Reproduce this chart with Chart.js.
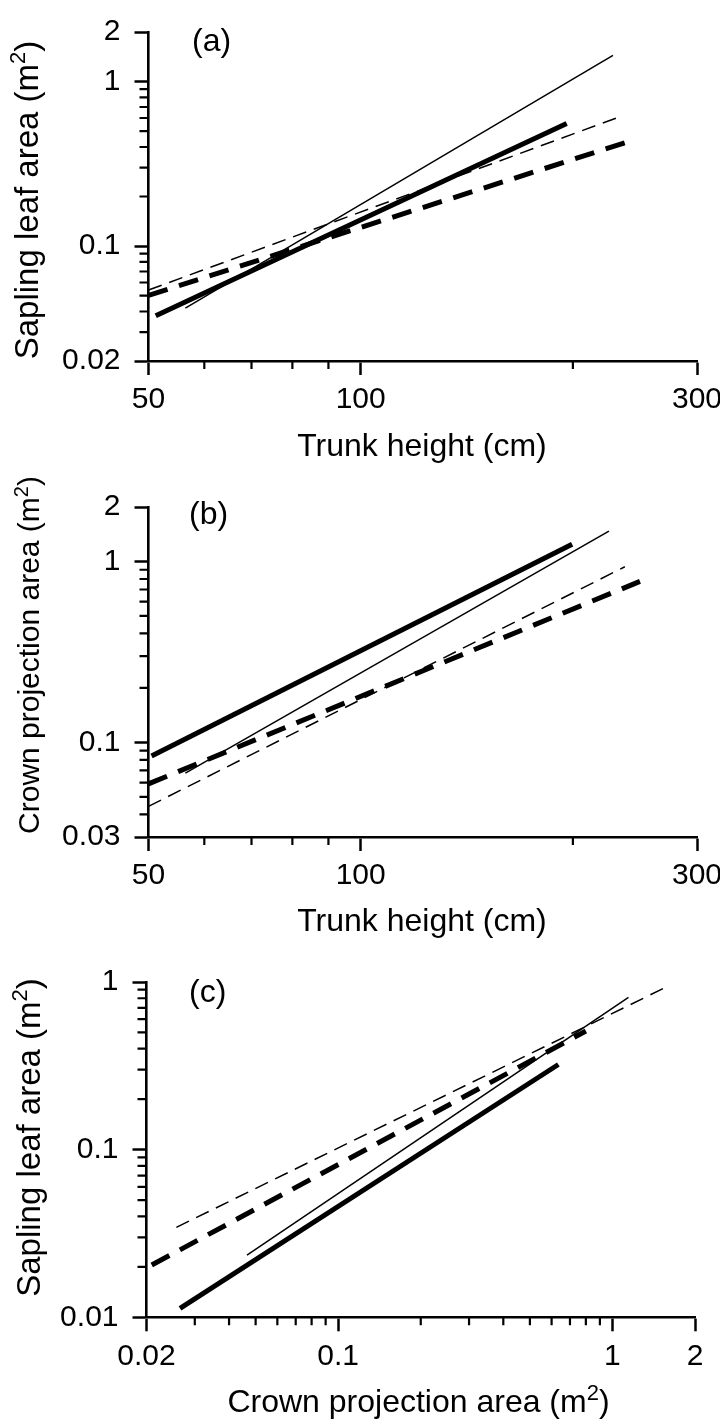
<!DOCTYPE html>
<html>
<head>
<meta charset="utf-8">
<title>Allometry of saplings</title>
<script src="https://cdn.jsdelivr.net/npm/chart.js@4.4.1/dist/chart.umd.min.js"></script>
<style>
  html, body { margin: 0; padding: 0; background: #fff; }
  .panel { position: relative; width: 720px; height: 475px; }
</style>
</head>
<body>
<div class="panel"><canvas id="panelA"></canvas></div>
<div class="panel"><canvas id="panelB"></canvas></div>
<div class="panel"><canvas id="panelC"></canvas></div>
<script>
const FONT = '"Liberation Sans", Arial, Helvetica, sans-serif';

// axis ticks
const heightMajor = [50, 100, 300];
const heightMinor = [60, 70, 80, 90, 200];
const leafMajorA = [0.02, 0.1, 1, 2];
const leafMinorA = [0.03, 0.04, 0.05, 0.06, 0.07, 0.08, 0.09, 0.2, 0.3, 0.4, 0.5, 0.6, 0.7, 0.8, 0.9];
const crownMajorB = [0.03, 0.1, 1, 2];
const crownMinorB = [0.04, 0.05, 0.06, 0.07, 0.08, 0.09, 0.2, 0.3, 0.4, 0.5, 0.6, 0.7, 0.8, 0.9];
const crownMajorC = [0.02, 0.1, 1, 2];
const crownMinorC = [0.03, 0.04, 0.05, 0.06, 0.07, 0.08, 0.09, 0.2, 0.3, 0.4, 0.5, 0.6, 0.7, 0.8, 0.9];
const leafMajorC = [0.01, 0.1, 1];
const leafMinorC = [0.02, 0.03, 0.04, 0.05, 0.06, 0.07, 0.08, 0.09, 0.2, 0.3, 0.4, 0.5, 0.6, 0.7, 0.8, 0.9];

// fitted lines, [x, y] at both ends
// (a) leaf area vs trunk height
const aThinSolid = [[56.4, 0.0419], [228, 1.44]];
const aThickSolid = [[51.2, 0.0377], [196, 0.556]];
const aThinDashed = [[50, 0.054], [233, 0.61]];
const aThickDashed = [[50, 0.0501], [237, 0.424]];
// (b) crown projection area vs trunk height
const bThinSolid = [[56.4, 0.0677], [225, 1.47]];
const bThickSolid = [[50.5, 0.084], [199.5, 1.245]];
const bThinDashed = [[50, 0.0443], [237, 0.935]];
const bThickDashed = [[50, 0.059], [249, 0.776]];
// (c) leaf area vs crown projection area
const cThinSolid = [[0.0465, 0.0235], [1.144, 0.809]];
const cThickSolid = [[0.0265, 0.0113], [0.635, 0.322]];
const cThinDashed = [[0.0257, 0.0344], [1.53, 0.914]];
const cThickDashed = [[0.0209, 0.0205], [0.80, 0.51]];

const thinSolid = { width: 1.5, dash: [] };
const thickSolid = { width: 5, dash: [] };
const thinDashed = { width: 1.5, dash: [14, 8] };
const thickDashed = { width: 5, dash: [20, 12] };

// short unlabelled ticks between the labelled ones
const minorTicks = {
  id: 'minorTicks',
  afterDraw(chart, args, opts) {
    const ctx = chart.ctx;
    const { x, y } = chart.scales;
    ctx.save();
    ctx.strokeStyle = '#000';
    ctx.lineWidth = 2.2;
    ctx.beginPath();
    opts.x.forEach(v => {
      const px = x.getPixelForValue(v);
      ctx.moveTo(px, x.top);
      ctx.lineTo(px, x.top + 8);
    });
    opts.y.forEach(v => {
      const py = y.getPixelForValue(v);
      ctx.moveTo(y.right, py);
      ctx.lineTo(y.right - 9, py);
    });
    ctx.stroke();
    ctx.restore();
  }
};

function drawTitle(ctx, parts, size, cx, base, rot) {
  const big = size + 'px ' + FONT;
  const small = Math.round(size * 0.68) + 'px ' + FONT;
  ctx.save();
  ctx.translate(cx, base);
  ctx.rotate(rot);
  ctx.font = big;
  const w0 = ctx.measureText(parts[0]).width;
  const w2 = ctx.measureText(parts[2]).width;
  ctx.font = small;
  const w1 = ctx.measureText(parts[1]).width;
  let x = -(w0 + w1 + w2) / 2;
  ctx.font = big;
  ctx.fillText(parts[0], x, 0);
  x += w0;
  ctx.font = small;
  ctx.fillText(parts[1], x, -size * 0.38);
  x += w1;
  ctx.font = big;
  ctx.fillText(parts[2], x, 0);
  ctx.restore();
}

// panel tag and axis titles (with superscript units)
const panelText = {
  id: 'panelText',
  afterDraw(chart, args, o) {
    const ctx = chart.ctx;
    ctx.save();
    ctx.fillStyle = '#000';
    ctx.textBaseline = 'alphabetic';
    ctx.textAlign = 'left';
    ctx.font = '32px ' + FONT;
    ctx.fillText(o.tag, o.tagX, o.tagY);
    drawTitle(ctx, o.xTitle, 32, o.xTitleX, o.xTitleY, 0);
    drawTitle(ctx, o.yTitle, o.yTitleSize, o.yTitleX, o.yTitleY, -Math.PI / 2);
    ctx.restore();
  }
};

function logAxis(pos, min, max, major, fit) {
  return {
    type: 'logarithmic',
    position: pos,
    min: min,
    max: max,
    bounds: 'data',
    afterBuildTicks: s => { s.ticks = major.map(v => ({ value: v })); },
    afterFit: fit,
    grid: { display: true, drawOnChartArea: false, drawTicks: true, tickLength: 14, tickWidth: 2.5, tickColor: '#000' },
    border: { display: true, color: '#000', width: 2.6 },
    ticks: {
      color: '#000',
      font: { family: FONT, size: 30 },
      padding: pos === 'left' ? 14 : 7,
      autoSkip: false,
      maxRotation: 0,
      minRotation: 0,
      callback: v => String(v)
    }
  };
}

function panel(id, p) {
  const H = 475;
  return new Chart(document.getElementById(id), {
    type: 'line',
    data: {
      datasets: p.lines.map(([pts, st]) => ({
        data: pts.map(([x, y]) => ({ x: x, y: y })),
        borderColor: '#000',
        borderWidth: st.width,
        borderDash: st.dash,
        borderCapStyle: 'butt',
        pointRadius: 0,
        fill: false,
        tension: 0
      }))
    },
    options: {
      responsive: true,
      maintainAspectRatio: false,
      animation: false,
      events: [],
      layout: { padding: { top: p.area.top, right: 720 - p.area.right, bottom: 0, left: 0 } },
      plugins: {
        legend: { display: false },
        tooltip: { enabled: false },
        minorTicks: { x: p.xMinor, y: p.yMinor },
        panelText: p.text
      },
      scales: {
        x: logAxis('bottom', p.xRange[0], p.xRange[1], p.xMajor, s => {
          s.height = H - p.area.bottom;
          s.paddingLeft = 0;
          s.paddingRight = 0;
        }),
        y: logAxis('left', p.yRange[0], p.yRange[1], p.yMajor, s => {
          s.width = p.area.left;
        })
      }
    },
    plugins: [minorTicks, panelText]
  });
}

panel('panelA', {
  area: { top: 22.7, bottom: 361, left: 148.5, right: 697 },
  xRange: [50, 300], yRange: [0.02, 2],
  xMajor: heightMajor, xMinor: heightMinor,
  yMajor: leafMajorA, yMinor: leafMinorA,
  lines: [[aThickSolid, thickSolid], [aThickDashed, thickDashed], [aThinSolid, thinSolid], [aThinDashed, thinDashed]],
  text: {
    tag: '(a)', tagX: 192, tagY: 51,
    xTitle: ['Trunk height (cm)', '', ''], xTitleX: 422, xTitleY: 456,
    yTitle: ['Sapling leaf area (m', '2', ')'], yTitleSize: 33, yTitleX: 38, yTitleY: 200
  }
});

panel('panelB', {
  area: { top: 21.7, bottom: 362, left: 148.5, right: 697 },
  xRange: [50, 300], yRange: [0.03, 2],
  xMajor: heightMajor, xMinor: heightMinor,
  yMajor: crownMajorB, yMinor: crownMinorB,
  lines: [[bThickSolid, thickSolid], [bThickDashed, thickDashed], [bThinSolid, thinSolid], [bThinDashed, thinDashed]],
  text: {
    tag: '(b)', tagX: 189, tagY: 49,
    xTitle: ['Trunk height (cm)', '', ''], xTitleX: 422, xTitleY: 456,
    yTitle: ['Crown projection area (m', '2', ')'], yTitleSize: 30, yTitleX: 39, yTitleY: 180
  }
});

panel('panelC', {
  area: { top: 25, bottom: 367.3, left: 146.5, right: 695 },
  xRange: [0.02, 2], yRange: [0.01, 1],
  xMajor: crownMajorC, xMinor: crownMinorC,
  yMajor: leafMajorC, yMinor: leafMinorC,
  lines: [[cThickSolid, thickSolid], [cThickDashed, thickDashed], [cThinSolid, thinSolid], [cThinDashed, thinDashed]],
  text: {
    tag: '(c)', tagX: 189, tagY: 52,
    xTitle: ['Crown projection area (m', '2', ')'], xTitleX: 418.5, xTitleY: 462,
    yTitle: ['Sapling leaf area (m', '2', ')'], yTitleSize: 33, yTitleX: 40, yTitleY: 187.5
  }
});
</script>
</body>
</html>
